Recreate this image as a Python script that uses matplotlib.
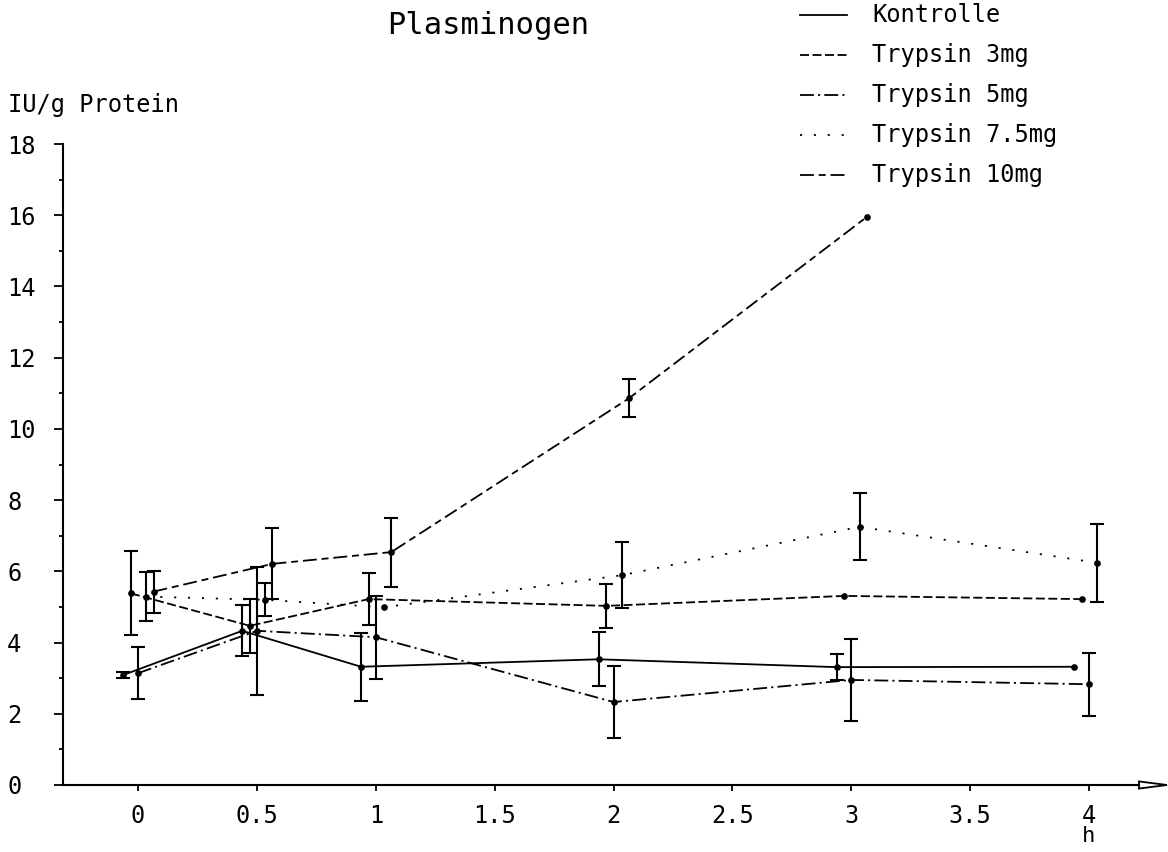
import numpy as np
import matplotlib
matplotlib.use('Agg')
import matplotlib.pyplot as plt
from matplotlib.lines import Line2D
from matplotlib.patches import Polygon

nan = np.nan

# ---------------- data ----------------
times = [0, 0.5, 1, 2, 3, 4]
series_names = ['Kontrolle', 'Trypsin 3mg', 'Trypsin 5mg', 'Trypsin 7.5mg', 'Trypsin 10mg']

kontrolle = [3.09, 4.33, 3.32, 3.53, 3.31, 3.32]
kontrolle_err = [0.08, 0.72, 0.96, 0.76, 0.36, nan]

trypsin_3 = [5.38, 4.47, 5.22, 5.03, 5.31, 5.22]
trypsin_3_err = [1.18, 0.75, 0.72, 0.62, nan, nan]

trypsin_5 = [3.14, 4.33, 4.15, 2.33, 2.95, 2.83]
trypsin_5_err = [0.73, 1.79, 1.17, 1.02, 1.15, 0.89]

trypsin_75 = [5.29, 5.20, 4.99, 5.89, 7.25, 6.24]
trypsin_75_err = [0.68, 0.46, nan, 0.93, 0.94, 1.10]

trypsin_10 = [5.43, 6.21, 6.54, 10.86, 15.95]
trypsin_10_err = [0.59, 1.00, 0.97, 0.54, nan]

x_ticks = [0, 0.5, 1, 1.5, 2, 2.5, 3, 3.5, 4]
x_tick_labels = ['0', '0.5', '1', '1.5', '2', '2.5', '3', '3.5', '4']
y_ticks = [0, 2, 4, 6, 8, 10, 12, 14, 16, 18]
y_tick_labels = ['0', '2', '4', '6', '8', '10', '12', '14', '16', '18']

title = 'Plasminogen'
y_label = 'IU/g Protein'
x_label = 'h'

# ---------------- style ----------------
plt.rcParams['font.family'] = ['DejaVu Sans Mono']
plt.rcParams['lines.scale_dashes'] = False

W, H = 1168, 852
fig = plt.figure(figsize=(W / 100, H / 100), dpi=100)

ax_left_px, ax_right_px = 62.7, 1167
ax_bottom_px, ax_top_px = 785, 144
ax = fig.add_axes([ax_left_px / W, (H - ax_bottom_px) / H,
                   (ax_right_px - ax_left_px) / W, (ax_bottom_px - ax_top_px) / H])
ax.set_xlim(-0.317, 4.328)
ax.set_ylim(0, 18)

all_y = [kontrolle, trypsin_3, trypsin_5, trypsin_75, trypsin_10]
all_err = [kontrolle_err, trypsin_3_err, trypsin_5_err, trypsin_75_err, trypsin_10_err]
offsets = [-0.062, -0.03, 0.0, 0.035, 0.065]
linestyles = ['-', (0, (6.5, 2.5)), (0, (10, 3, 1.5, 3)), (0, (1.5, 8.5)), (0, (10, 3.5, 5, 3.5))]
LW = 1.3

for yv, ev, off, ls in zip(all_y, all_err, offsets, linestyles):
    y = np.array(yv, dtype=float)
    e = np.array(ev, dtype=float)
    x = np.array(times[:len(y)], dtype=float) + off
    ax.plot(x, y, linestyle=ls, color='black', lw=LW, marker='o', ms=3.8,
            markerfacecolor='black', markeredgecolor='black', clip_on=False)
    m = ~np.isnan(e)
    ax.errorbar(x[m], y[m], yerr=e[m], fmt='none', ecolor='black',
                elinewidth=1.5, capsize=4.7, capthick=1.5, clip_on=False)

# axes styling
ax.spines['top'].set_visible(False)
ax.spines['right'].set_visible(False)
ax.spines['left'].set_bounds(0, 18)
ax.spines['bottom'].set_bounds(-0.317, 4.21)
for s in ('left', 'bottom'):
    ax.spines[s].set_linewidth(1.5)

ax.set_xticks(x_ticks)
ax.set_xticklabels(x_tick_labels, fontsize=17)
ax.tick_params(axis='x', direction='out', length=4.5, width=1.3, pad=9)

ax.set_yticks(y_ticks)
ax.set_yticklabels(y_tick_labels, fontsize=17)
ax.set_yticks(np.arange(1, 18, 2), minor=True)
ax.tick_params(axis='y', which='major', direction='out', length=6.5, width=1.3, pad=33.5)
ax.tick_params(axis='y', which='minor', direction='out', length=3, width=1.3)
for lab in ax.get_yticklabels():
    lab.set_horizontalalignment('left')

# hollow arrow at end of x axis
arrow = Polygon([[4.21, -0.1], [4.21, 0.1], [4.328, 0.0]], closed=True,
                facecolor='white', edgecolor='black', lw=1.3, clip_on=False)
ax.add_patch(arrow)

ax.text(4, -(836 - ax_bottom_px) / (ax_bottom_px - ax_top_px), x_label,
        transform=ax.get_xaxis_transform(), ha='center', va='center', fontsize=16)

fig.text(8 / W, 1 - 105 / H, y_label, ha='left', va='center', fontsize=17)
fig.text(488 / W, 1 - 26 / H, title, ha='center', va='center', fontsize=22)

# legend (manual)
for i, (name, ls) in enumerate(zip(series_names, linestyles)):
    ypx = 15 + 40 * i
    yf = 1 - ypx / H
    fig.add_artist(Line2D([800 / W, 847 / W], [yf, yf], transform=fig.transFigure,
                          linestyle=ls, color='black', lw=LW))
    fig.text(872 / W, yf, name, ha='left', va='center', fontsize=17)

fig.savefig('out.png', dpi=100)
